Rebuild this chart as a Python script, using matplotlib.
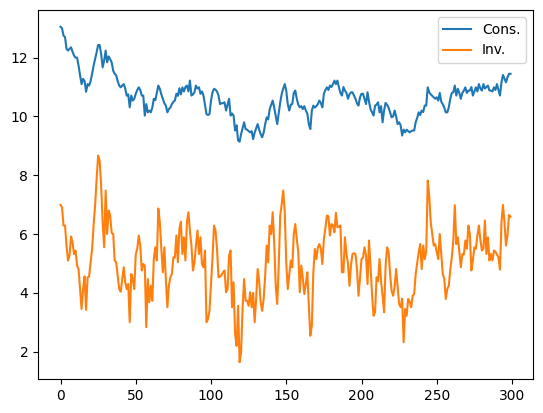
import matplotlib
matplotlib.use("Agg")
import matplotlib.pyplot as plt
import numpy as np

cons = [13.05, 13.0, 12.75, 12.7, 12.3, 12.24, 12.3, 12.35, 12.2, 12.07,
        12.0, 12.0, 11.73, 11.4, 11.1, 11.28, 11.2, 10.84, 11.1, 11.05,
        11.2, 11.45, 11.73, 11.95, 12.18, 12.43, 12.43, 12.13, 11.67, 11.9,
        12.24, 11.84, 12.04, 11.95, 11.84, 11.56, 11.45, 11.4, 11.2, 11.05,
        10.99, 11.05, 11.1, 10.95, 10.71, 10.75, 10.31, 10.71, 10.54, 10.6,
        10.77, 10.9, 10.99, 10.9, 10.71, 10.71, 10.03, 10.42, 10.14, 10.2,
        10.14, 10.3, 10.6, 10.55, 10.8, 11.05, 10.94, 10.75, 10.6, 10.45,
        10.37, 10.14, 10.25, 10.3, 10.42, 10.5, 10.54, 10.77, 10.7, 10.96,
        10.75, 10.99, 10.85, 11.0, 11.05, 10.85, 11.22, 10.71, 10.75, 10.82,
        11.05, 10.95, 10.99, 10.77, 10.85, 10.71, 10.4, 10.08, 10.05, 10.08,
        10.54, 10.82, 10.94, 10.91, 10.85, 10.71, 10.42, 10.45, 10.45, 10.48,
        10.2, 10.4, 10.6, 10.03, 10.1, 10.03, 9.52, 9.7, 9.18, 9.14,
        9.4, 9.6, 9.8, 9.57, 9.55, 9.5, 9.46, 9.5, 9.23, 9.45,
        9.6, 9.74, 9.55, 9.4, 9.29, 9.45, 9.74, 9.97, 9.9, 10.25,
        10.4, 10.54, 10.3, 10.03, 9.74, 10.1, 10.48, 10.77, 10.95, 11.1,
        10.88, 10.42, 10.2, 10.4, 10.42, 10.8, 10.88, 10.6, 10.4, 10.31,
        10.35, 10.25, 10.35, 10.2, 10.1, 9.74, 9.57, 10.2, 10.37, 10.3,
        10.35, 10.42, 10.54, 10.45, 10.31, 10.77, 10.9, 10.99, 10.9, 11.05,
        11.0, 11.1, 11.22, 11.1, 11.22, 10.99, 10.8, 10.71, 11.0, 10.88,
        10.8, 10.6, 10.75, 10.82, 10.82, 10.71, 10.6, 10.45, 10.37, 10.65,
        10.77, 10.77, 10.6, 10.42, 10.82, 10.5, 10.25, 10.14, 10.03, 10.37,
        10.4, 10.48, 10.14, 10.35, 9.8, 10.2, 10.46, 10.4, 10.3, 10.14,
        9.97, 10.0, 10.2, 10.0, 9.74, 9.8, 9.7, 9.35, 9.55, 9.46,
        9.55, 9.5, 9.46, 9.5, 9.52, 9.52, 9.8, 9.95, 10.14, 10.05,
        10.2, 10.15, 10.37, 10.37, 10.99, 10.82, 10.75, 10.7, 10.65, 10.6,
        10.65, 10.54, 10.8, 10.5, 10.42, 10.3, 10.14, 10.14, 10.31, 10.6,
        10.8, 10.82, 11.05, 10.71, 10.94, 10.8, 10.6, 10.8, 10.88, 10.99,
        10.8, 10.88, 10.88, 11.0, 10.71, 10.85, 10.99, 10.85, 11.1, 10.95,
        10.88, 11.1, 10.95, 11.0, 11.05, 10.88, 10.88, 10.85, 10.99, 10.9,
        11.1, 10.9, 10.71, 11.16, 11.41, 11.28, 11.16, 11.33, 11.45, 11.45]

inv = [6.99, 6.91, 6.29, 6.29, 5.61, 5.10, 5.27, 5.92, 5.72, 5.32,
       5.44, 4.93, 4.81, 4.13, 3.45, 4.13, 4.56, 3.42, 4.53, 4.55,
       5.04, 5.49, 6.30, 6.97, 7.87, 8.67, 8.50, 7.65, 6.40, 5.55,
       7.48, 6.00, 6.80, 6.63, 6.04, 6.00, 5.10, 5.04, 4.60, 4.13,
       4.04, 4.47, 4.87, 4.36, 4.13, 4.30, 3.00, 4.64, 4.47, 4.13,
       5.30, 5.50, 5.95, 5.60, 4.76, 4.98, 4.93, 2.83, 4.47, 3.68,
       4.24, 3.73, 5.15, 5.55, 5.10, 6.87, 6.40, 5.49, 4.70, 5.55,
       4.47, 3.51, 4.24, 4.53, 4.64, 5.21, 5.20, 5.95, 5.04, 6.17,
       6.42, 5.32, 5.89, 5.10, 6.40, 6.74, 6.10, 5.61, 4.76, 5.04,
       5.61, 6.12, 5.32, 5.89, 4.98, 4.87, 5.44, 3.00, 3.11, 3.40,
       4.30, 5.20, 6.29, 6.12, 5.49, 4.53, 4.55, 4.60, 4.70, 4.76,
       4.02, 4.13, 5.27, 5.44, 3.51, 4.36, 2.60, 2.20, 3.56, 1.64,
       1.98, 3.50, 4.47, 3.73, 3.73, 3.56, 4.02, 3.51, 4.00, 3.00,
       3.80, 4.81, 4.40, 3.68, 3.39, 3.80, 4.58, 5.61, 5.04, 6.29,
       6.00, 6.74, 5.72, 4.24, 3.62, 4.93, 6.63, 7.02, 7.48, 6.74,
       5.04, 4.13, 4.60, 5.10, 4.87, 6.00, 6.34, 5.83, 5.38, 4.02,
       4.93, 4.50, 3.96, 4.30, 4.70, 3.56, 2.54, 2.88, 4.70, 5.49,
       5.15, 5.55, 5.66, 5.50, 4.98, 5.83, 6.20, 6.63, 6.60, 5.95,
       6.34, 6.30, 6.06, 6.72, 6.23, 6.25, 6.29, 4.70, 4.70, 5.89,
       5.32, 5.00, 4.24, 4.93, 5.32, 5.35, 5.32, 4.81, 3.90, 4.50,
       5.15, 5.20, 5.55, 5.27, 4.30, 5.78, 4.90, 3.95, 3.22, 3.34,
       4.53, 4.40, 5.15, 4.40, 3.90, 3.34, 4.90, 5.55, 5.40, 4.64,
       4.07, 3.90, 4.20, 4.81, 4.20, 3.62, 3.51, 3.80, 2.32, 3.45,
       3.22, 3.79, 3.70, 3.51, 3.90, 3.96, 4.64, 5.00, 5.38, 5.66,
       4.81, 5.61, 5.15, 5.40, 7.82, 7.31, 6.40, 6.00, 5.61, 5.65,
       5.38, 5.15, 6.00, 5.30, 4.64, 4.47, 3.79, 4.13, 4.24, 4.80,
       5.20, 5.78, 6.98, 5.66, 5.89, 5.40, 4.87, 5.32, 5.30, 5.78,
       5.50, 6.29, 6.00, 4.76, 5.10, 5.55, 5.50, 5.95, 6.29, 5.80,
       5.44, 5.50, 6.46, 5.32, 5.89, 5.10, 5.32, 5.10, 5.44, 5.40,
       5.30, 5.21, 4.79, 6.40, 6.99, 6.40, 5.61, 5.95, 6.65, 6.59]

labels = ["Cons.", "Inv."]

fig = plt.figure(figsize=(5.43, 4.13), dpi=100)
ax = fig.add_axes([38 / 543, 1 - 379 / 413, 495 / 543, 369 / 413])
ax.plot(np.arange(len(cons)), cons, label=labels[0])
ax.plot(np.arange(len(inv)), inv, label=labels[1])
ax.legend(loc="upper right")
fig.savefig("out.png", dpi=100)
